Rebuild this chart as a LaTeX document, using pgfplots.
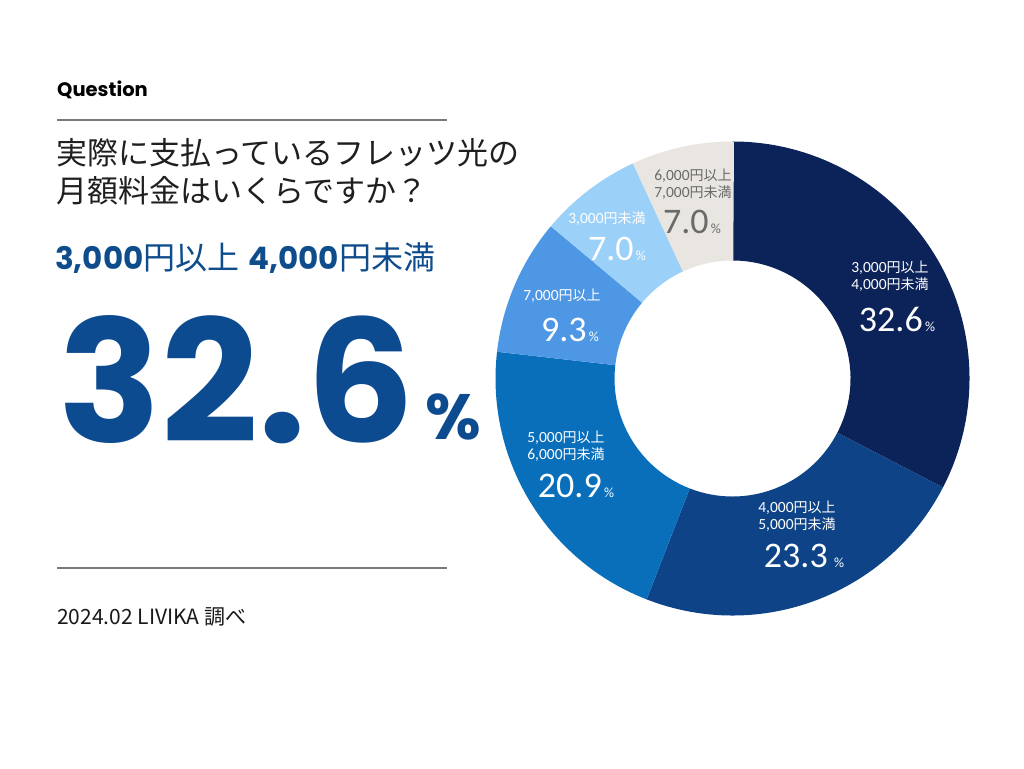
\documentclass[border=0pt]{standalone}
\usepackage{pgfplots}
\pgfplotsset{compat=1.18}
\usepackage{pgfplotstable}
\usepackage{fontspec}
\setmainfont{Noto Sans CJK JP}
\newfontfamily\jp{Noto Sans CJK JP}
\newfontfamily\pop{Poppins}
\newfontfamily\crl{Carlito}
\definecolor{c0}{HTML}{0B2359}
\definecolor{c1}{HTML}{0E4487}
\definecolor{c2}{HTML}{0A6FBA}
\definecolor{c3}{HTML}{4E97E5}
\definecolor{c4}{HTML}{9BD0F8}
\definecolor{c5}{HTML}{E9E5E1}
\definecolor{bluetxt}{HTML}{0F4C8C}
\definecolor{bignum}{HTML}{0D4B90}
\definecolor{graytxt}{HTML}{6A6A6A}
\definecolor{rule}{HTML}{7A7A7A}
\pgfplotstableread{
label pct
a 32.6
b 23.3
c 20.9
d 9.3
e 7.0
f 7.0
}\donut
\newcommand\fs[1]{\fontsize{#1}{#1}\selectfont}
\newcommand\lab[2]{{\crl\fs{15.5}#1}{\jp\fs{14}#2}}
\newcommand\num[2]{{\crl\fs{36}#1}{\crl\fs{14}\,\%}}
\begin{document}
\begin{tikzpicture}
\begin{axis}[
  width=1024pt, height=768pt, scale only axis,
  xmin=0, xmax=1024, ymin=0, ymax=768,
  hide axis, clip=false,
]
\fill[white] (axis cs:0,0) rectangle (axis cs:1024,768);
\pgfmathsetmacro\cum{0}
\pgfplotsforeachungrouped \i in {0,...,5}{%
  \pgfplotstablegetelem{\i}{pct}\of\donut
  \pgfmathsetmacro\sa{90-3.6*\cum}%
  \pgfmathsetmacro\cum{\cum+\pgfplotsretval}%
  \pgfmathsetmacro\ea{90-3.6*\cum}%
  \edef\tmp{\noexpand\fill[c\i] (axis cs:732.5,389.5) ++(\sa:237pt)
    arc[start angle=\sa, end angle=\ea, radius=237pt]
    -- ++(\ea:-119pt)
    arc[start angle=\ea, end angle=\sa, radius=118pt] -- cycle;}%
  \tmp
}
% slice labels
\begin{scope}[every node/.style={inner sep=0pt, text=white}]
\node at (axis cs:890,500) {\lab{3,000}{円以上}};
\node at (axis cs:890,483) {\lab{4,000}{円未満}};
\node at (axis cs:897,449) {\num{32.6}{}};
\node at (axis cs:797,260) {\lab{4,000}{円以上}};
\node at (axis cs:797,243) {\lab{5,000}{円未満}};
\node at (axis cs:804,212) {{\crl\fs{36}23.3}{\crl\fs{14}\ \ \%}};
\node at (axis cs:566,330) {\lab{5,000}{円以上}};
\node at (axis cs:566,313) {\lab{6,000}{円未満}};
\node at (axis cs:576,282) {\num{20.9}{}};
\node at (axis cs:562,472) {\lab{7,000}{円以上}};
\node at (axis cs:570,438) {\num{9.3}{}};
\node at (axis cs:607,549) {\lab{3,000}{円未満}};
\node at (axis cs:617,519) {\num{7.0}{}};
\node[text=graytxt] at (axis cs:693,592) {\lab{6,000}{円以上}};
\node[text=graytxt] at (axis cs:693,575) {\lab{7,000}{円未満}};
\node[text=graytxt] at (axis cs:692,546) {\num{7.0}{}};
\end{scope}
% left panel
\begin{scope}[every node/.style={inner sep=0pt, anchor=west}]
\node at (axis cs:57,678) {\pop\bfseries\fs{19.5}Question};
\draw[rule, line width=1.3pt] (axis cs:57,648) -- (axis cs:447,648);
\node[text=black!88] at (axis cs:56,615) {\jp\fs{31}実際に支払っているフレッツ光の};
\node[text=black!88] at (axis cs:56,577) {\jp\fs{31}月額料金はいくらですか？};
\node[text=bluetxt] at (axis cs:55,510) {{\pop\bfseries\fs{31}3,000}{\jp\fs{32}円以上}\hspace{9pt}{\pop\bfseries\fs{31}4,000}{\jp\fs{32}円未満}};
\node[text=bignum, anchor=base west] at (axis cs:58,325) {\pop\bfseries\fs{170}32.6};
\node[text=bignum, anchor=base west] at (axis cs:425,328) {\pop\bfseries\fs{64}\%};
\draw[rule, line width=1.3pt] (axis cs:57,200) -- (axis cs:447,200);
\node[text=black!90] at (axis cs:57,151) {\jp\fs{21}2024.02 LIVIKA 調べ};
\end{scope}
\end{axis}
\end{tikzpicture}
\end{document}
